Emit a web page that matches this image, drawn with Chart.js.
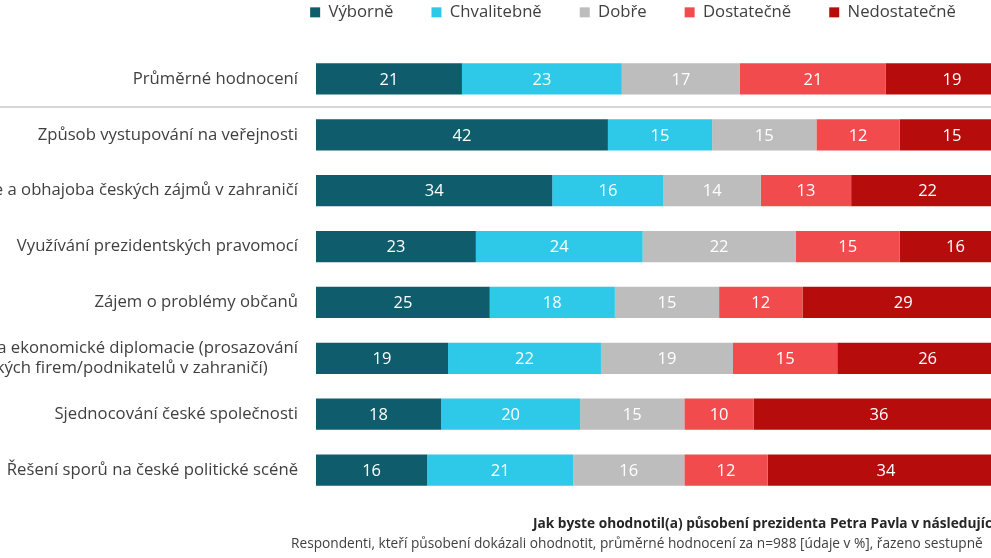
<!DOCTYPE html>
<html lang="cs">
<head>
<meta charset="utf-8">
<script src="https://cdn.jsdelivr.net/npm/chart.js@4.4.1/dist/chart.umd.min.js"></script>
<style>
  html, body { margin: 0; padding: 0; background: #fff; }
  #frame { position: relative; width: 991px; height: 558px; overflow: hidden; }
  #chartBox { position: absolute; left: -120px; top: 0; }
  .note { position: absolute; white-space: nowrap; font-family: 'Open Sans', sans-serif; font-size: 13.7px; }
  #noteTitle { left: 533px; top: 513px; font-weight: bold; color: #262626; }
  #noteSub { left: 291px; top: 533px; color: #404040; }
</style>
</head>
<body>
<div id="frame">
  <div id="chartBox"><canvas id="ratingChart" width="1151" height="558"></canvas></div>
  <div class="note" id="noteTitle">Jak byste ohodnotil(a) působení prezidenta Petra Pavla v následujících oblastech?</div>
  <div class="note" id="noteSub">Respondenti, kteří působení dokázali ohodnotit, průměrné hodnocení za n=988 [údaje v %], řazeno sestupně</div>
</div>
<script>
const categories = [
  'Průměrné hodnocení',
  'Způsob vystupování na veřejnosti',
  'Prezentace a obhajoba českých zájmů v zahraničí',
  'Využívání prezidentských pravomocí',
  'Zájem o problémy občanů',
  ['Podpora ekonomické diplomacie (prosazování', 'českých firem/podnikatelů v zahraničí)'],
  'Sjednocování české společnosti',
  'Řešení sporů na české politické scéně'
];
const seriesNames = ['Výborně', 'Chvalitebně', 'Dobře', 'Dostatečně', 'Nedostatečně'];
const vyborne      = [21, 42, 34, 23, 25, 19, 18, 16];
const chvalitebne  = [23, 15, 16, 24, 18, 22, 20, 21];
const dobre        = [17, 15, 14, 22, 15, 19, 15, 16];
const dostatecne   = [21, 12, 13, 15, 12, 15, 10, 12];
const nedostatecne = [19, 15, 22, 16, 29, 26, 36, 34];
const colors = ['#0f5c6d', '#2ec8e8', '#bdbdbd', '#f24b4d', '#b70c0c'];

const font = "'Open Sans', sans-serif";
const labelSize = 16.7;

// white value inside each segment
const valueLabels = {
  id: 'valueLabels',
  afterDatasetsDraw(chart) {
    const ctx = chart.ctx;
    ctx.save();
    ctx.font = '16.5px ' + font;
    ctx.fillStyle = '#ffffff';
    ctx.textAlign = 'center';
    ctx.textBaseline = 'middle';
    chart.data.datasets.forEach((ds, i) => {
      chart.getDatasetMeta(i).data.forEach((bar, j) => {
        ctx.fillText(ds.data[j], (bar.x + bar.base) / 2, bar.y + 1);
      });
    });
    ctx.restore();
  }
};

// thin rule under the average row
const separator = {
  id: 'separator',
  beforeDatasetsDraw(chart) {
    const y = chart.scales.y;
    const yy = Math.round((y.getPixelForValue(0) + y.getPixelForValue(1)) / 2);
    const ctx = chart.ctx;
    ctx.save();
    ctx.strokeStyle = '#d6d6d6';
    ctx.lineWidth = 2;
    ctx.beginPath();
    ctx.moveTo(0, yy);
    ctx.lineTo(chart.width, yy);
    ctx.stroke();
    ctx.restore();
  }
};

// keep wide legend spacing but leave room above the bars
const legendSpace = {
  id: 'legendSpace',
  beforeInit(chart) {
    if (!chart.legend) return;
    const fit = chart.legend.fit;
    chart.legend.fit = function () {
      fit.call(this);
      this.height = 85;
    };
  }
};

const seriesData = [vyborne, chvalitebne, dobre, dostatecne, nedostatecne];

new Chart(document.getElementById('ratingChart'), {
  type: 'bar',
  data: {
    labels: categories,
    datasets: seriesData.map((d, i) => ({
      label: seriesNames[i],
      data: d,
      backgroundColor: colors[i],
      borderWidth: 0,
      barPercentage: 0.56,
      categoryPercentage: 1
    }))
  },
  options: {
    indexAxis: 'y',
    responsive: false,
    animation: false,
    layout: { padding: { top: -34, left: 375, right: 20, bottom: 60 } },
    plugins: {
      legend: {
        position: 'top',
        labels: {
          boxWidth: 10,
          boxHeight: 10,
          padding: 38,
          color: '#404040',
          font: { family: font, size: labelSize }
        }
      },
      tooltip: { enabled: false }
    },
    scales: {
      x: { stacked: true, min: 0, max: 100, display: false },
      y: {
        stacked: true,
        grid: { display: false, drawTicks: false },
        border: { display: false },
        ticks: {
          padding: 18,
          color: '#404040',
          font: { family: font, size: labelSize },
          // centre the lines of a wrapped label inside its own block
          callback(value) {
            const label = this.getLabelForValue(value);
            if (!Array.isArray(label)) return label;
            const ctx = this.ctx;
            ctx.save();
            ctx.font = labelSize + 'px ' + font;
            const widths = label.map(s => ctx.measureText(s).width);
            const space = ctx.measureText('\u00a0').width;
            ctx.restore();
            const widest = Math.max(...widths);
            return label.map((s, i) => s + '\u00a0'.repeat(Math.round((widest - widths[i]) / 2 / space)));
          }
        },
        afterFit(scale) {
          scale.width = 61;
          // long labels run left past the narrow axis box, so no clipping
          scale._computeLabelArea = () => undefined;
        }
      }
    }
  },
  plugins: [legendSpace, separator, valueLabels]
});
</script>
</body>
</html>
